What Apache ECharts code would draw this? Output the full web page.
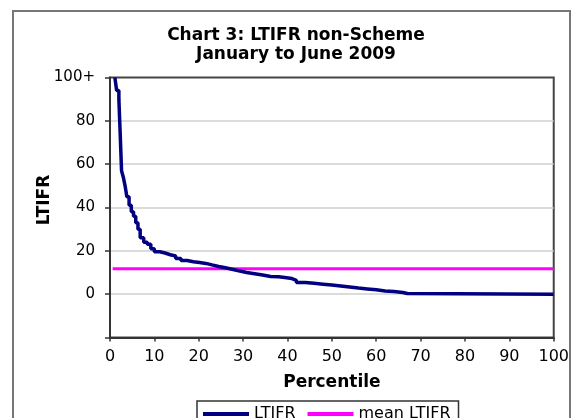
<!DOCTYPE html>
<html>
<head>
<meta charset="utf-8">
<script src="https://cdn.jsdelivr.net/npm/echarts@6/dist/echarts.min.js"></script>
<style>html,body{margin:0;padding:0;background:#fff;}#c{width:572px;height:418px;}</style>
</head>
<body>
<div id="c"></div>
<script>
var percentile = [1.1, 1.5, 2.0, 2.3, 2.6, 3.0, 3.4, 3.8, 4.3, 4.8, 5.3, 5.8, 6.3, 6.8, 7.6, 8.4, 9.2, 10.0, 11.2, 12.4, 13.6, 14.8, 16.0, 17.4, 18.8, 20.2, 21.6, 23.0, 24.5, 26.0, 27.5, 29.0, 30.8, 32.6, 34.4, 36.2, 38.0, 39.8, 41.0, 42.0, 44.0, 46.0, 48.0, 50.0, 52.0, 54.0, 56.0, 58.0, 60.0, 62.0, 64.0, 66.0, 67.0, 100];
var ltifr = [100, 94, 90, 74, 57, 54, 50, 45, 41, 38, 36, 33, 30, 26, 24, 23, 21, 19.6, 19, 18.2, 17.6, 16.5, 15.5, 15, 14.6, 14.2, 13.5, 12.8, 12.2, 11.5, 10.8, 10, 9.4, 8.8, 8.2, 8, 7.6, 7.2, 6.4, 5.4, 5, 4.6, 4.2, 3.8, 3.3, 2.8, 2.4, 2, 1.5, 1.2, 0.8, 0.3, 0, 0];
var meanPercentile = [0.6, 100];
var meanLtifr = [11.7, 11.7];
var yTopLabel = '100+';

var ltifrData = percentile.map(function (p, i) { return [p, ltifr[i]]; });
var meanData = meanPercentile.map(function (p, i) { return [p, meanLtifr[i]]; });

var chart = echarts.init(document.getElementById('c'));
var font = 'DejaVu Sans';
chart.setOption({
  animation: false,
  backgroundColor: '#fff',
  title: {
    text: 'Chart 3: LTIFR non-Scheme\nJanuary to June 2009',
    left: 291, top: 21, textAlign: 'center',
    textStyle: { fontFamily: font, fontSize: 17, fontWeight: 'bold', lineHeight: 19, color: '#000' }
  },
  graphic: [
    { type: 'rect', shape: { x: 13, y: 11, width: 557, height: 450 }, style: { fill: 'none', stroke: '#777', lineWidth: 2 }, silent: true },
    { type: 'text', x: 45, y: 200, rotation: Math.PI / 2, style: { text: 'LTIFR', font: 'bold 17px "DejaVu Sans"', fill: '#000', textAlign: 'center', textVerticalAlign: 'middle' } }
  ],
  legend: {
    data: ['LTIFR', 'mean LTIFR'],
    left: 197, top: 401,
    borderColor: '#333', borderWidth: 1.5,
    padding: [5, 8, 5, 6],
    itemWidth: 46, itemHeight: 4, itemGap: 12,
    icon: 'rect',
    textStyle: { fontFamily: font, fontSize: 16, color: '#000' }
  },
  grid: { left: 110, right: 17, top: 77.5, bottom: 80.5, show: true, borderColor: '#444', borderWidth: 2, backgroundColor: '#fff' },
  xAxis: {
    type: 'value', min: 0, max: 100, interval: 10,
    name: 'Percentile', nameLocation: 'middle', nameGap: 37,
    nameTextStyle: { fontFamily: font, fontSize: 17, fontWeight: 'bold', color: '#000' },
    axisLine: { onZero: false, lineStyle: { color: '#333', width: 2 } },
    axisTick: { length: 4, lineStyle: { color: '#333', width: 1.5 } },
    axisLabel: { margin: 11, fontFamily: font, fontSize: 16, color: '#000' },
    splitLine: { show: false }
  },
  yAxis: {
    type: 'value', min: -20, max: 100, interval: 20,
    axisLine: { show: true, lineStyle: { color: '#333', width: 2 } },
    axisTick: { show: true, length: 5, lineStyle: { color: '#333', width: 1.5 } },
    axisLabel: {
      margin: 15, fontFamily: font, fontSize: 15, color: '#000',
      formatter: function (v) { return v === 100 ? yTopLabel : (v === -20 ? '' : String(v)); }
    },
    splitLine: { show: true, showMaxLine: false, showMinLine: false, lineStyle: { color: '#cfcfcf', width: 1.5 } }
  },
  series: [
    {
      name: 'LTIFR', type: 'line', data: ltifrData, step: 'end',
      showSymbol: false, symbol: 'none', z: 3,
      lineStyle: { color: '#000080', width: 3.5 }, itemStyle: { color: '#000080' }
    },
    {
      name: 'mean LTIFR', type: 'line', data: meanData,
      showSymbol: false, symbol: 'none', z: 2,
      lineStyle: { color: '#ff00ff', width: 3 }, itemStyle: { color: '#ff00ff' }
    }
  ]
});
</script>
</body>
</html>
